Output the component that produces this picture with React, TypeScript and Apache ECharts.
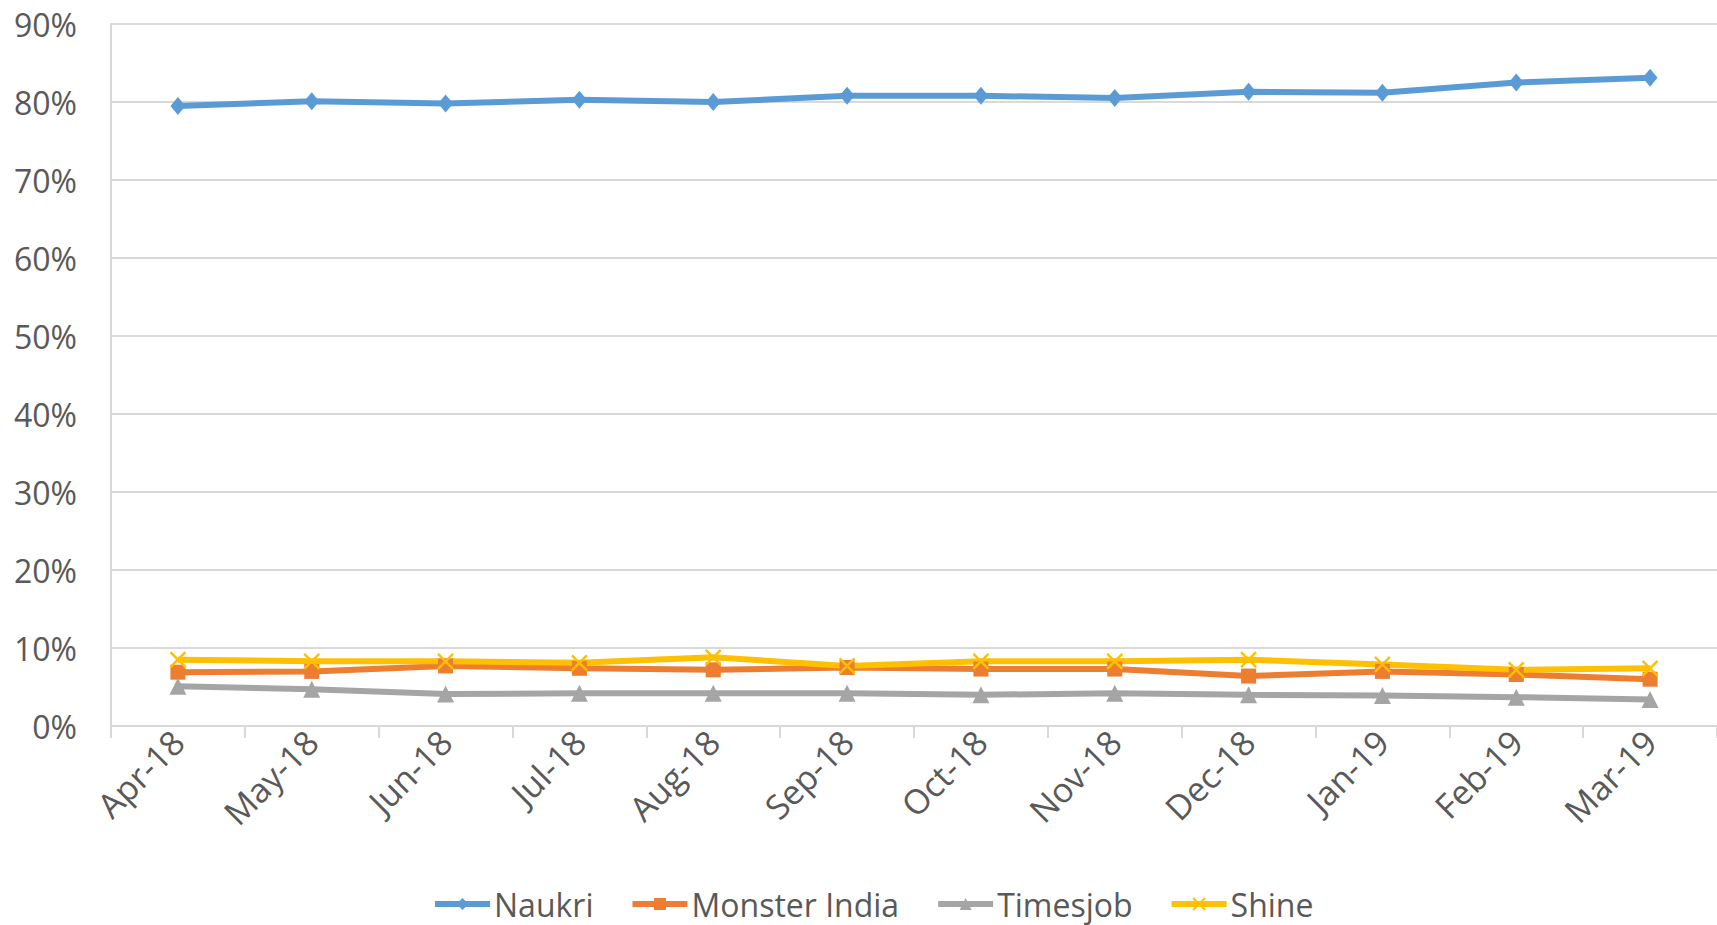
import React, { useEffect, useRef } from "react";
import * as echarts from "echarts";

const categories = ["Apr-18", "May-18", "Jun-18", "Jul-18", "Aug-18", "Sep-18", "Oct-18", "Nov-18", "Dec-18", "Jan-19", "Feb-19", "Mar-19"];
const naukri = [79.5, 80.1, 79.8, 80.3, 80.0, 80.8, 80.8, 80.5, 81.3, 81.2, 82.5, 83.1];
const monsterIndia = [6.9, 7.0, 7.7, 7.4, 7.2, 7.5, 7.3, 7.3, 6.4, 7.0, 6.6, 6.0];
const timesjob = [5.1, 4.7, 4.1, 4.2, 4.2, 4.2, 4.0, 4.2, 4.0, 3.9, 3.7, 3.4];
const shine = [8.5, 8.3, 8.3, 8.1, 8.8, 7.7, 8.3, 8.3, 8.5, 7.9, 7.2, 7.4];
const seriesNames = ["Naukri", "Monster India", "Timesjob", "Shine"];

const FONT = "'Open Sans', sans-serif";
const TEXT = "#595959";

export default function App() {
  const ref = useRef<HTMLDivElement>(null);
  useEffect(() => {
    if (!ref.current) return;
    const chart = echarts.init(ref.current, null, { renderer: "svg" });
    const xSym = "path://M0,0L10,10M10,0L0,10";
    const mk = (name: string, data: number[], color: string, symbol: string, size: any, extra: any = {}) => ({
      name,
      type: "line",
      data,
      symbol,
      symbolSize: size,
      lineStyle: { color, width: 6 },
      itemStyle: { color, ...extra },
      z: 2,
    });
    chart.setOption({
      animation: false,
      textStyle: { fontFamily: FONT },
      grid: { left: 111, right: 0, top: 24, bottom: 199, containLabel: false },
      legend: {
        data: seriesNames,
        bottom: 0,
        left: 427,
        itemWidth: 55,
        itemHeight: 15,
        itemGap: 36,
        lineStyle: { width: 6 },
        textStyle: { fontSize: 32, color: TEXT, fontFamily: FONT, padding: [0, 0, 0, -1] },
      },
      xAxis: {
        type: "category",
        data: categories,
        boundaryGap: true,
        axisLine: { lineStyle: { color: "#d9d9d9", width: 2 } },
        axisTick: { show: true, length: 12, lineStyle: { color: "#d9d9d9", width: 2 } },
        axisLabel: { rotate: 45, fontSize: 34, color: TEXT, fontFamily: FONT, margin: 10, interval: 0 },
      },
      yAxis: {
        type: "value",
        min: 0,
        max: 90,
        interval: 10,
        axisLine: { show: true, lineStyle: { color: "#d9d9d9", width: 2 } },
        axisTick: { show: false },
        splitLine: { lineStyle: { color: "#d9d9d9", width: 2 } },
        axisLabel: { formatter: "{value}%", fontSize: 32, color: TEXT, fontFamily: FONT, margin: 34 },
      },
      series: [
        mk(seriesNames[0], naukri, "#5B9BD5", "diamond", [15, 18]),
        mk(seriesNames[1], monsterIndia, "#ED7D31", "rect", 15),
        mk(seriesNames[2], timesjob, "#A5A5A5", "triangle", 17),
        mk(seriesNames[3], shine, "#FFC000", xSym, 15, { borderColor: "#FFC000", borderWidth: 2.5 }),
      ],
    });
    return () => chart.dispose();
  }, []);
  return (
    <div
      ref={ref}
      style={{ position: "fixed", left: 0, top: 0, width: "1717px", height: "925px", background: "#fff" }}
    />
  );
}
